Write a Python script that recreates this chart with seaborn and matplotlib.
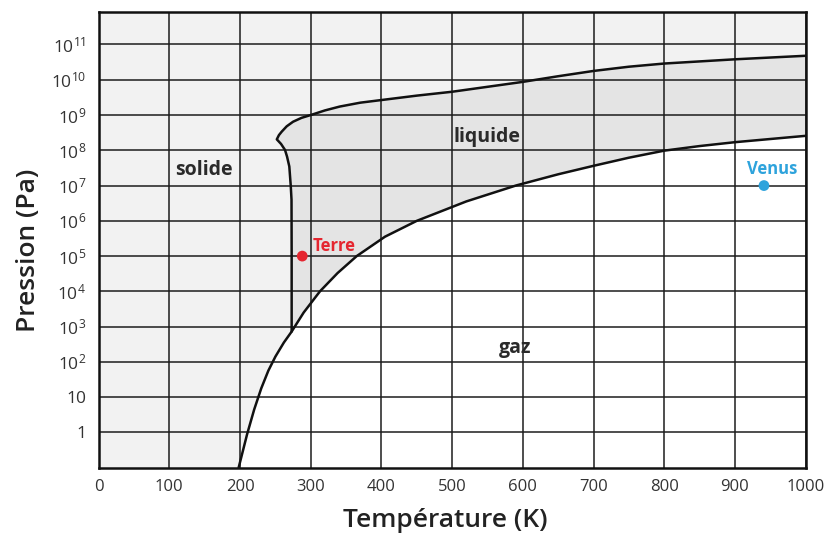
import numpy as np
import matplotlib
matplotlib.use("Agg")
import matplotlib.pyplot as plt
import seaborn as sns
import pandas as pd

# Diagramme de phase de l'eau (T en K, log10 P en Pa)
vap_T = [198, 210, 220, 230, 240, 250, 262, 273, 290, 313, 338, 365, 405, 450, 520, 590, 650,
         700, 750, 800, 850, 900, 950, 1000]
vap_logP = [-1.0, -0.05, 0.65, 1.25, 1.75, 2.15, 2.55, 2.86, 3.40, 4.0, 4.52, 5.0, 5.55, 6.0, 6.55,
            7.0, 7.32, 7.56, 7.79, 7.99, 8.12, 8.23, 8.32, 8.41]

fus_T = [273, 273, 272.8, 271.7, 269.7, 266.5, 263.6, 258, 252, 255, 259, 266, 275, 287, 300,
         320, 341, 370, 398, 450, 500, 550, 600, 650, 700, 750, 800, 900, 1000]
fus_logP = [2.86, 5.0, 6.6, 7.0, 7.54, 7.82, 8.01, 8.18, 8.31, 8.43, 8.53, 8.68, 8.81, 8.92, 9.0,
            9.13, 9.24, 9.35, 9.42, 9.55, 9.66, 9.80, 9.94, 10.10, 10.25, 10.37, 10.46, 10.58, 10.68]

planet_names = ['Terre', 'Venus']
planet_T = [288, 941]
planet_logP = [5.0, 7.0]
planet_colors = ['#e52630', '#2ea3dc']

region_names = ['solide', 'liquide', 'gaz']
region_T = [149, 549, 589]
region_logP = [7.44, 8.39, 2.40]

x_ticks = list(range(0, 1001, 100))
y_exp = list(range(0, 12))

FONT = ['Open Sans', 'DejaVu Sans']

sns.set_style("white")
plt.rcParams['font.family'] = FONT

vap = pd.DataFrame({'T': vap_T, 'P': 10.0 ** np.array(vap_logP)})
fus = pd.DataFrame({'T': fus_T, 'P': 10.0 ** np.array(fus_logP)})

fig = plt.figure(figsize=(8.33, 5.36), dpi=100)
ax = fig.add_axes([0.1184, 0.1274, 0.8488, 0.8508])
ax.set_yscale('log')
ax.set_facecolor('#f2f2f2')

# gaz : blanc sous la courbe de vaporisation
ax.fill_between(vap['T'], vap['P'], 1e-3, color='white', lw=0, zorder=1)

# liquide : entre courbe de fusion / haute pression et vaporisation
i_tp = vap_T.index(273)
liq_x = fus_T + vap_T[::-1][:len(vap_T) - i_tp]
liq_y = list(fus['P']) + list(vap['P'][::-1][:len(vap_T) - i_tp])
ax.fill(liq_x, liq_y, color='#e4e4e4', lw=0, zorder=1)

sns.lineplot(data=vap, x='T', y='P', sort=False, estimator=None, color='#111111', lw=1.8, ax=ax, zorder=3)
sns.lineplot(data=fus, x='T', y='P', sort=False, estimator=None, color='#111111', lw=1.8, ax=ax, zorder=3)

ax.set_xlim(0, 1000)
ax.set_ylim(10 ** -1.0, 10 ** 11.93)

ax.set_xticks(x_ticks)
ax.set_xticklabels([str(t) for t in x_ticks])
ax.set_xticks(range(0, 1001, 10), minor=True)
ax.set_yticks([10.0 ** e for e in y_exp])
ylabels = ['1', '10'] + [r'$\mathregular{10^{%d}}$' % e for e in y_exp[2:]]
ax.set_yticklabels(ylabels)
ax.yaxis.set_minor_locator(matplotlib.ticker.LogLocator(base=10, subs=np.arange(2, 10), numticks=30))
ax.yaxis.set_minor_formatter(matplotlib.ticker.NullFormatter())

ax.tick_params(axis='x', which='major', direction='out', length=3, width=1, pad=5,
               labelsize=12, labelcolor='#333333', color='#222222')
ax.tick_params(axis='y', which='major', direction='out', length=3, width=1, pad=6,
               labelsize=12.5, labelcolor='#333333', color='#222222')
ax.tick_params(which='minor', direction='in', length=3, width=0.8, color='#444444')

ax.set_axisbelow('line')
ax.grid(True, which='major', color='#1c1c1c', lw=1.1)
for s in ax.spines.values():
    s.set_color('#111111')
    s.set_linewidth(1.8)
    s.set_zorder(4)

ax.set_xlabel('Température (K)', fontsize=19, fontweight='semibold', color='#222222')
ax.set_ylabel('Pression (Pa)', fontsize=19, fontweight='semibold', color='#222222')
ax.xaxis.set_label_coords(0.49, -0.088)
ax.yaxis.set_label_coords(-0.082, 0.477)

for name, t, lp in zip(region_names, region_T, region_logP):
    ax.text(t, 10 ** lp, name, ha='center', va='center', fontsize=14,
            fontweight='bold', color='#2a2a2a', zorder=5)

pts = pd.DataFrame({'T': planet_T, 'P': 10.0 ** np.array(planet_logP), 'name': planet_names})
sns.scatterplot(data=pts, x='T', y='P', hue='name', palette=planet_colors, s=60,
                edgecolor='none', legend=False, ax=ax, zorder=6)
ax.text(303, 10 ** 5.29, 'Terre', ha='left', va='center', fontsize=12,
        fontweight='bold', color=planet_colors[0], zorder=6)
ax.text(952, 10 ** 7.46, 'Venus', ha='center', va='center', fontsize=12,
        fontweight='bold', color=planet_colors[1], zorder=6)

fig.savefig('out.png', dpi=100)
